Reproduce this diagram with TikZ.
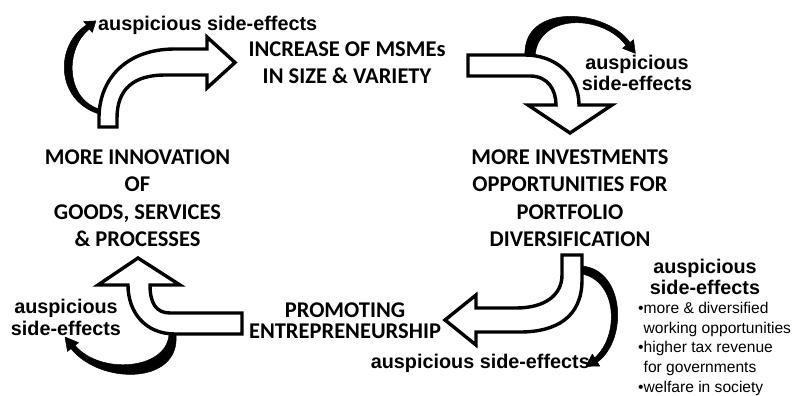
\documentclass[tikz,border=0pt]{standalone}
\usepackage{fontspec}
\setmainfont{Liberation Sans}
\newfontfamily\headfont{Carlito}
\begin{document}
\begin{tikzpicture}[x=1pt,y=-1pt,
  hollow/.style={draw=black, fill=white, line width=3.4pt, line join=miter, miter limit=10},
  sidearrow/.style={fill=black, draw=black, line width=0.5pt, line join=round},
  stage/.style={font=\headfont\bfseries\fontsize{22.5}{27.5}\selectfont, align=center, inner sep=0pt, anchor=base},
  sidefx/.style={font=\bfseries\fontsize{19.8}{21.5}\selectfont, align=center, inner sep=0pt, anchor=base},
  bullets/.style={font=\fontsize{15.6}{19.7}\selectfont, align=left, inner sep=0pt, anchor=base west}]
\useasboundingbox (0,0) rectangle (793,396);

% side-effect arrows (filled crescents with a triangular head)
\path[sidearrow] (99,114) .. controls (55,100) and (55,45) .. (86.5,25)
  -- (83.7,21.5) -- (95.9,20.9) -- (92.3,32.5) -- (89.5,29)
  .. controls (65,48) and (65,98) .. (99,109) -- cycle;
\path[sidearrow] (525,56) .. controls (522,3) and (605,8) .. (630,42.5)
  -- (633.5,39.7) -- (635.4,53.4) -- (622.5,48.3) -- (626,45.5)
  .. controls (603,14) and (538,13) .. (535,56) -- cycle;
\path[sidearrow] (582,266) .. controls (625,270) and (628,340) .. (597.3,362.1)
  -- (599.7,366) -- (585.8,366.4) -- (592.3,354) -- (594.7,357.9)
  .. controls (620,335) and (617,281) .. (582,274) -- cycle;
\path[sidearrow] (176,335) .. controls (180,385) and (100,385) .. (71,348.6)
  -- (67.5,351.4) -- (65,337) -- (78.5,342.6) -- (75,345.4)
  .. controls (100,375) and (166,370) .. (169,335) -- cycle;

% hollow block arrows of the cycle
\draw[hollow] (99,127) -- (117,127) -- (117,118)
  .. controls (117,88) and (135,75) .. (165,75) -- (207,75) -- (207,88)
  -- (235,62.5) -- (207,37) -- (207,49) -- (175,49)
  .. controls (125,49) and (99,80) .. (99,118) -- cycle;
\draw[hollow] (468,55) -- (468,76) -- (530,76)
  .. controls (548,76) and (556,90) .. (556,105) -- (528,105) -- (570,133)
  -- (612,105) -- (579,105) .. controls (579,75) and (555,55) .. (525,55) -- cycle;
\draw[hollow] (562,255) -- (582,255) -- (582,280)
  .. controls (582,318) and (555,332) .. (520,332) -- (476,332) -- (476,345)
  -- (445,320) -- (476,295) -- (476,308) -- (516,308)
  .. controls (545,308) and (562,295) .. (562,275) -- cycle;
\draw[hollow] (242,313) -- (242,334) -- (175,334)
  .. controls (145,334) and (128,312) .. (128,285) -- (98,285) -- (138,258)
  -- (180,285) -- (150,285) .. controls (150,303) and (156,313) .. (170,313) -- cycle;

% stages of the cycle (multi-line nodes sit on the baseline of their last line)
\node[stage] (increase) at (347,83.4) {INCREASE OF MSMEs\\[-0.8pt]IN SIZE \& VARIETY};
\node[stage] (invest) at (570,246.5) {MORE INVESTMENTS\\OPPORTUNITIES FOR\\PORTFOLIO\\DIVERSIFICATION};
\node[stage, font=\headfont\bfseries\fontsize{22.5}{21}\selectfont] (promo) at (345,338) {PROMOTING\\ENTREPRENEURSHIP};
\node[stage] (innov) at (137.5,246.5) {MORE INNOVATION\\OF\\GOODS, SERVICES\\\& PROCESSES};

% side-effect labels
\node[sidefx, anchor=base west] (fxa) at (98,31) {auspicious side-effects};
\node[sidefx, font=\bfseries\fontsize{19.8}{21}\selectfont] (fxb) at (637,91) {auspicious\\side-effects};
\node[sidefx, anchor=base east] (fxc) at (590,368) {auspicious side-effects};
\node[sidefx, font=\bfseries\fontsize{19.8}{22}\selectfont] (fxd) at (66,335) {auspicious\\side-effects};
\node[sidefx, font=\bfseries\fontsize{19.8}{21}\selectfont] (fxe) at (705,294) {auspicious\\side-effects};
\node[bullets] (list) at (638,392.3) {•more \& diversified\\\hphantom{•}working opportunities\\•higher tax revenue\\\hphantom{•}for governments\\•welfare in society};
\end{tikzpicture}
\end{document}
